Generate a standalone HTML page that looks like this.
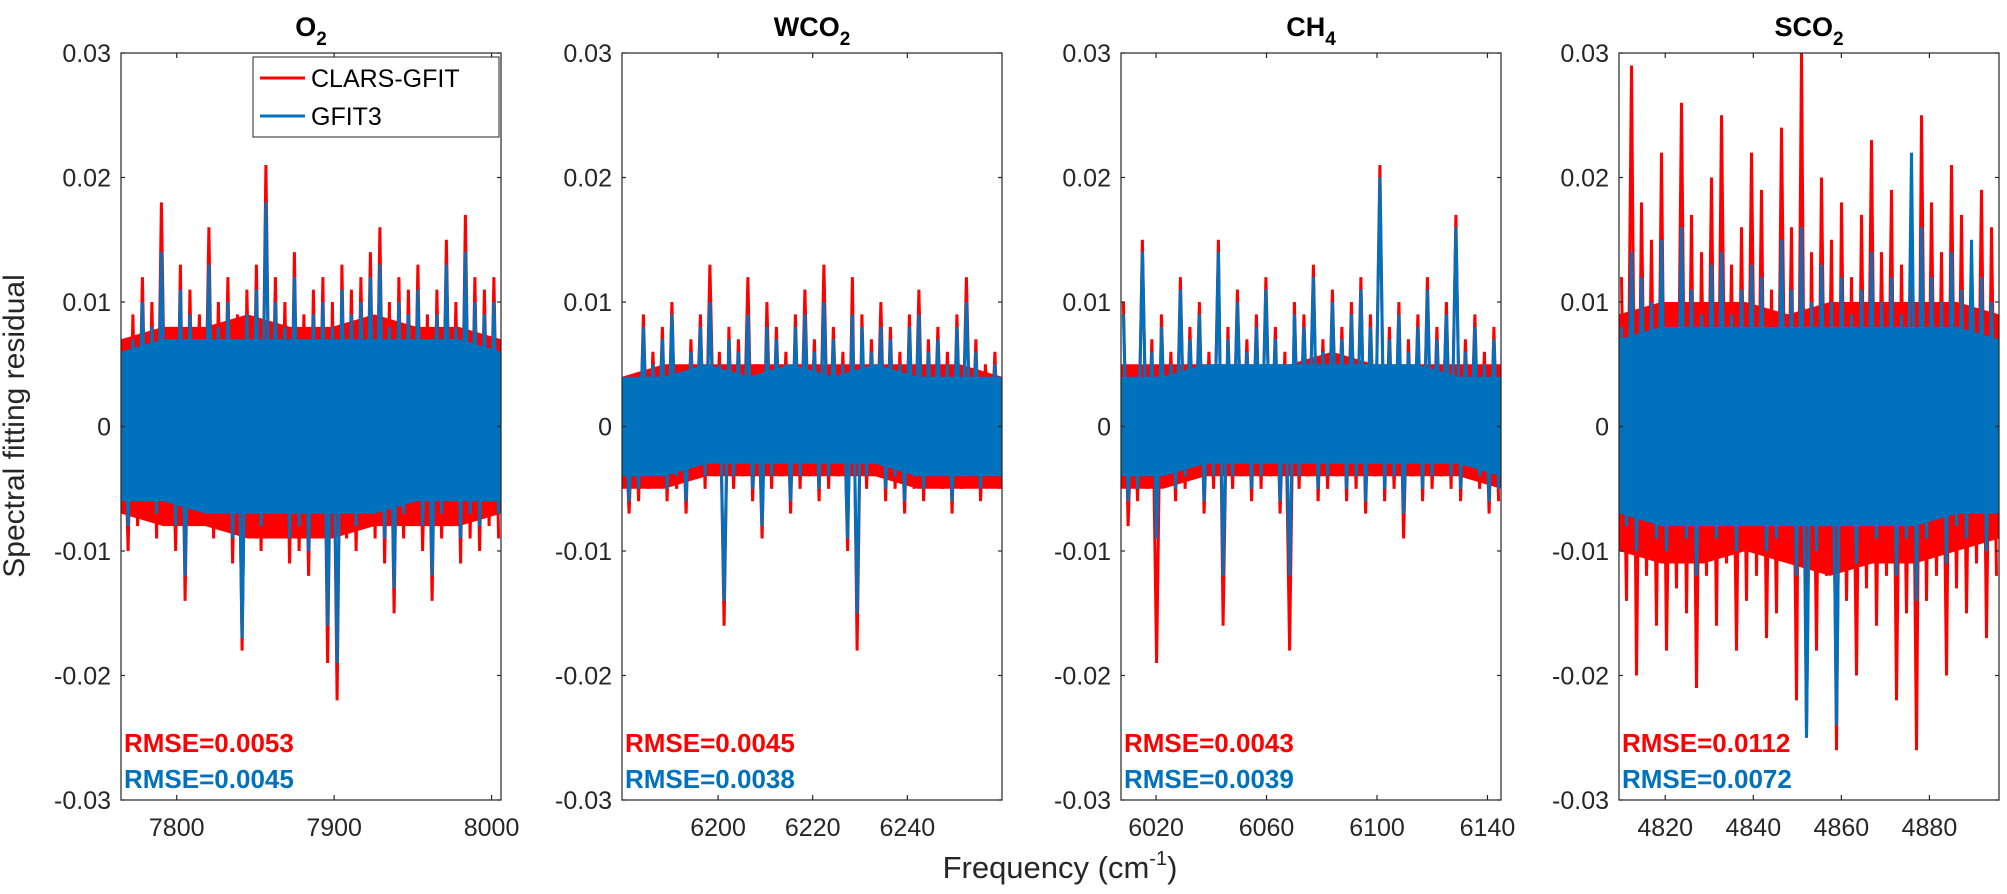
<!DOCTYPE html>
<html><head><meta charset="utf-8">
<style>
html,body{margin:0;padding:0;background:#fff;}
svg{display:block;font-family:"Liberation Sans",Arial,sans-serif;}
</style></head>
<body>
<svg id="chart" width="2007" height="894" viewBox="0 0 2007 894">
<text x="24" y="426" transform="rotate(-90 24 426)" text-anchor="middle" font-size="30" fill="#262626">Spectral fitting residual</text>
<text x="1060" y="878" text-anchor="middle" font-size="31" fill="#262626">Frequency (cm<tspan dy="-13" font-size="20">-1</tspan><tspan dy="13">)</tspan></text>
</svg>
<script>
// ---- data (residual values in units of 0.001) ----
const panelTitles = ["O", "WCO", "CH", "SCO"];
const titleSubs = ["2", "2", "4", "2"];
const yTicks = [-0.03, -0.02, -0.01, 0, 0.01, 0.02, 0.03];
const yTickLabels = ["-0.03", "-0.02", "-0.01", "0", "0.01", "0.02", "0.03"];
const xDomains = [[7764.6, 8006], [6179.7, 6260], [6007.3, 6144.9], [4809.5, 4895.8]];
const xTicks = [[7800, 7900, 8000], [6200, 6220, 6240], [6020, 6060, 6100, 6140], [4820, 4840, 4860, 4880]];
const rmseClars = ["RMSE=0.0053", "RMSE=0.0045", "RMSE=0.0043", "RMSE=0.0112"];
const rmseGfit = ["RMSE=0.0045", "RMSE=0.0038", "RMSE=0.0039", "RMSE=0.0072"];

const clarsO2 = [5,-10,9,-8,12,-7,10,-9,18,-6,8,-10,13,-14,11,-8,9,-7,16,-9,10,-8,12,-11,9,-18,11,-9,13,-10,21,-8,12,-9,10,-11,14,-10,9,-12,11,-9,12,-19,10,-22,13,-9,11,-10,12,-8,14,-9,16,-11,10,-15,12,-9,11,-8,13,-10,9,-14,11,-9,15,-8,10,-11,17,-9,12,-10,11,-8,12,-9];
const gfitO2 = [4,-8,7,-6,10,-6,8,-7,14,-5,7,-8,11,-12,9,-6,7,-6,13,-7,8,-6,10,-9,7,-17,9,-7,11,-8,18,-6,10,-7,8,-9,12,-8,7,-10,9,-7,10,-16,8,-19,11,-7,9,-8,10,-6,12,-7,13,-9,8,-13,10,-7,9,-6,11,-8,7,-12,9,-7,13,-6,8,-9,14,-7,10,-8,9,-6,10,-7];
const clarsWCO2 = [2,-7,4,-6,9,-5,6,-4,8,-6,10,-5,4,-7,7,-3,9,-5,13,-4,6,-16,8,-5,7,-4,12,-6,5,-9,10,-5,8,-4,6,-7,9,-5,11,-4,7,-6,13,-5,8,-4,6,-10,12,-18,9,-5,7,-4,10,-6,8,-5,6,-7,9,-5,11,-6,7,-4,8,-5,6,-7,9,-5,12,-4,7,-6,5,-4,6,-5];
const gfitWCO2 = [2,-6,3,-5,8,-4,5,-3,7,-5,9,-4,3,-6,6,-3,8,-4,10,-3,5,-14,7,-4,6,-3,9,-5,4,-8,8,-4,7,-3,5,-6,8,-4,9,-3,6,-5,10,-4,7,-3,5,-9,9,-15,8,-4,6,-3,8,-5,7,-4,5,-6,8,-4,9,-5,6,-3,7,-4,5,-6,8,-4,10,-3,6,-5,4,-3,5,-4];
const clarsCH4 = [10,-8,4,-6,15,-5,7,-19,9,-4,6,-6,12,-5,8,-4,10,-7,6,-5,15,-16,8,-5,11,-4,7,-6,9,-5,12,-4,8,-7,6,-18,10,-5,9,-4,13,-6,7,-5,11,-4,8,-6,10,-5,12,-7,9,-4,21,-6,8,-5,10,-9,7,-4,9,-6,12,-5,8,-4,10,-5,17,-6,7,-4,9,-5,6,-7,8,-6];
const gfitCH4 = [9,-6,3,-5,14,-4,6,-9,8,-3,5,-5,11,-4,7,-3,9,-6,5,-4,14,-12,7,-4,10,-3,6,-5,8,-4,11,-3,7,-6,5,-12,9,-4,8,-3,12,-5,6,-4,10,-3,7,-5,9,-4,11,-6,8,-3,20,-5,7,-4,9,-7,6,-3,8,-5,11,-4,7,-3,9,-4,16,-5,6,-3,8,-4,5,-6,7,-5];
const clarsSCO2 = [12,-14,29,-20,18,-12,15,-16,22,-18,10,-13,26,-15,17,-21,14,-12,20,-16,25,-11,13,-18,16,-14,22,-12,19,-17,11,-15,24,-10,16,-22,30,-25,14,-18,20,-12,15,-26,18,-14,12,-20,17,-13,23,-16,14,-12,19,-22,13,-15,16,-26,25,-14,18,-12,14,-20,21,-13,17,-15,13,-11,19,-17,16,-12];
const gfitSCO2 = [8,-8,14,-10,12,-7,10,-9,15,-10,8,-8,16,-9,11,-12,9,-7,13,-9,14,-7,9,-10,11,-8,13,-7,12,-10,8,-9,15,-7,11,-12,16,-25,10,-10,13,-7,10,-24,12,-8,9,-11,11,-8,14,-9,10,-7,12,-12,9,-9,22,-14,16,-9,12,-7,10,-11,14,-8,11,-9,15,-7,12,-10,10,-7];

// dense-core envelopes (upper / lower, units of 0.001), read across each panel
const clarsBandUpO2 = [7,8,8,9,8,8,9,8,8,7];
const clarsBandLoO2 = [-7,-8,-8,-9,-9,-9,-8,-8,-8,-7];
const gfitBandUpO2 = [6,7,7,7,7,7,7,7,7,6];
const gfitBandLoO2 = [-6,-6,-7,-7,-7,-7,-7,-6,-6,-6];
const clarsBandUpWCO2 = [4,5,5,5,5,5,5,5,5,4];
const clarsBandLoWCO2 = [-5,-5,-4,-4,-4,-4,-4,-5,-5,-5];
const gfitBandUpWCO2 = [4,4,5,4,5,4,5,4,4,4];
const gfitBandLoWCO2 = [-4,-4,-3,-3,-3,-3,-3,-4,-4,-4];
const clarsBandUpCH4 = [5,5,5,5,5,6,5,5,5,5];
const clarsBandLoCH4 = [-5,-5,-4,-4,-4,-4,-4,-4,-4,-5];
const gfitBandUpCH4 = [4,4,5,5,5,5,5,5,4,4];
const gfitBandLoCH4 = [-4,-4,-3,-3,-3,-3,-3,-3,-3,-4];
const clarsBandUpSCO2 = [9,10,10,10,9,10,10,10,10,9];
const clarsBandLoSCO2 = [-10,-11,-11,-10,-11,-12,-11,-11,-10,-9];
const gfitBandUpSCO2 = [7,8,8,8,8,8,8,8,8,7];
const gfitBandLoSCO2 = [-7,-8,-8,-8,-8,-8,-8,-8,-7,-7];

const clarsSeries = [clarsO2, clarsWCO2, clarsCH4, clarsSCO2];
const gfitSeries = [gfitO2, gfitWCO2, gfitCH4, gfitSCO2];
const clarsBandsUp = [clarsBandUpO2, clarsBandUpWCO2, clarsBandUpCH4, clarsBandUpSCO2];
const clarsBandsLo = [clarsBandLoO2, clarsBandLoWCO2, clarsBandLoCH4, clarsBandLoSCO2];
const gfitBandsUp = [gfitBandUpO2, gfitBandUpWCO2, gfitBandUpCH4, gfitBandUpSCO2];
const gfitBandsLo = [gfitBandLoO2, gfitBandLoWCO2, gfitBandLoCH4, gfitBandLoSCO2];

// ---- layout ----
const NS = "http://www.w3.org/2000/svg";
const svgEl = document.getElementById("chart");
const panelLeft = [121, 622, 1121, 1619];
const panelW = 380;
const plotTop = 53, plotBottom = 800;
const yScale = v => plotBottom - (v + 0.03) / 0.06 * (plotBottom - plotTop);
function mk(tag, attrs, parent) {
  const e = document.createElementNS(NS, tag);
  for (const k in attrs) e.setAttribute(k, attrs[k]);
  (parent || svgEl).appendChild(e);
  return e;
}
const slugs = ["o2", "wco2", "ch4", "sco2"];

panelTitles.forEach((t, p) => {
  const L = panelLeft[p], R = L + panelW;
  const d0 = xDomains[p][0], d1 = xDomains[p][1];
  const xScale = v => L + (v - d0) / (d1 - d0) * panelW;
  const g = mk("g", {});
  
  

  const tt = mk("text", {x: (L + R) / 2, y: 36, "text-anchor": "middle", "font-size": 27, "font-weight": "bold", fill: "#000"}, g);
  
  
  tt.textContent = t;
  const ts = mk("tspan", {dy: 9, "font-size": 19}, tt);
  ts.textContent = titleSubs[p];

  const drawBand = (up, lo, color, name) => {
    const n = up.length;
    const xs = up.map((_, i) => xScale(d0 + i / (n - 1) * (d1 - d0)));
    const pts = up.map((v, i) => xs[i].toFixed(1) + "," + yScale(v / 1000).toFixed(1))
      .concat(lo.map((v, i) => xs[i].toFixed(1) + "," + yScale(v / 1000).toFixed(1)).reverse()).join(" ");
    const pg = mk("polygon", {points: pts, fill: color}, g);
    
    
  };
  const drawSeries = (arr, color, name) => {
    const n = arr.length;
    const pts = arr.map((v, i) => {
      const xv = d0 + (i + 0.5) / n * (d1 - d0);
      return xScale(xv).toFixed(1) + "," + yScale(v / 1000).toFixed(1);
    }).join(" ");
    const pl = mk("polyline", {points: pts, fill: "none", stroke: color, "stroke-width": 3, "stroke-linejoin": "miter"}, g);
    
    
  };
  drawBand(clarsBandsUp[p], clarsBandsLo[p], "#ff0000", "clars-gfit-band-" + slugs[p]);
  drawSeries(clarsSeries[p], "#ff0000", "clars-gfit-line-" + slugs[p]);
  drawBand(gfitBandsUp[p], gfitBandsLo[p], "#0072bd", "gfit3-band-" + slugs[p]);
  drawSeries(gfitSeries[p], "#0072bd", "gfit3-line-" + slugs[p]);

  const box = mk("rect", {x: L, y: plotTop, width: panelW, height: plotBottom - plotTop, fill: "none", stroke: "#262626", "stroke-width": 1.2}, g);
  
  

  yTicks.forEach((v, i) => {
    const y = yScale(v);
    mk("line", {x1: L, x2: L + 4, y1: y, y2: y, stroke: "#262626", "stroke-width": 1.2}, g);
    mk("line", {x1: R, x2: R - 4, y1: y, y2: y, stroke: "#262626", "stroke-width": 1.2}, g);
    const lb = mk("text", {x: L - 10, y: y + 9, "text-anchor": "end", "font-size": 25, fill: "#262626"}, g);
    
    
    lb.textContent = yTickLabels[i];
  });
  xTicks[p].forEach(v => {
    const x = xScale(v);
    mk("line", {x1: x, x2: x, y1: plotBottom, y2: plotBottom - 5, stroke: "#262626", "stroke-width": 1.2}, g);
    mk("line", {x1: x, x2: x, y1: plotTop, y2: plotTop + 5, stroke: "#262626", "stroke-width": 1.2}, g);
    const lb = mk("text", {x: x, y: plotBottom + 36, "text-anchor": "middle", "font-size": 25, fill: "#262626"}, g);
    
    
    lb.textContent = v;
  });

  const r1 = mk("text", {x: L + 3, y: 752, "font-size": 26, "font-weight": "bold", fill: "#ff0000"}, g);
  
  
  r1.textContent = rmseClars[p];
  const r2 = mk("text", {x: L + 3, y: 788, "font-size": 26, "font-weight": "bold", fill: "#0072bd"}, g);
  
  
  r2.textContent = rmseGfit[p];
});

const lg = mk("g", {});


mk("rect", {x: 253, y: 57, width: 246, height: 80, fill: "#fff", stroke: "#262626", "stroke-width": 1}, lg);
mk("line", {x1: 260, x2: 305, y1: 78, y2: 78, stroke: "#ff0000", "stroke-width": 3}, lg);
mk("line", {x1: 260, x2: 305, y1: 116, y2: 116, stroke: "#0072bd", "stroke-width": 3}, lg);
const le1 = mk("text", {x: 311, y: 87, "font-size": 25, fill: "#000"}, lg);


le1.textContent = "CLARS-GFIT";
const le2 = mk("text", {x: 311, y: 125, "font-size": 25, fill: "#000"}, lg);


le2.textContent = "GFIT3";
</script>
</body></html>
